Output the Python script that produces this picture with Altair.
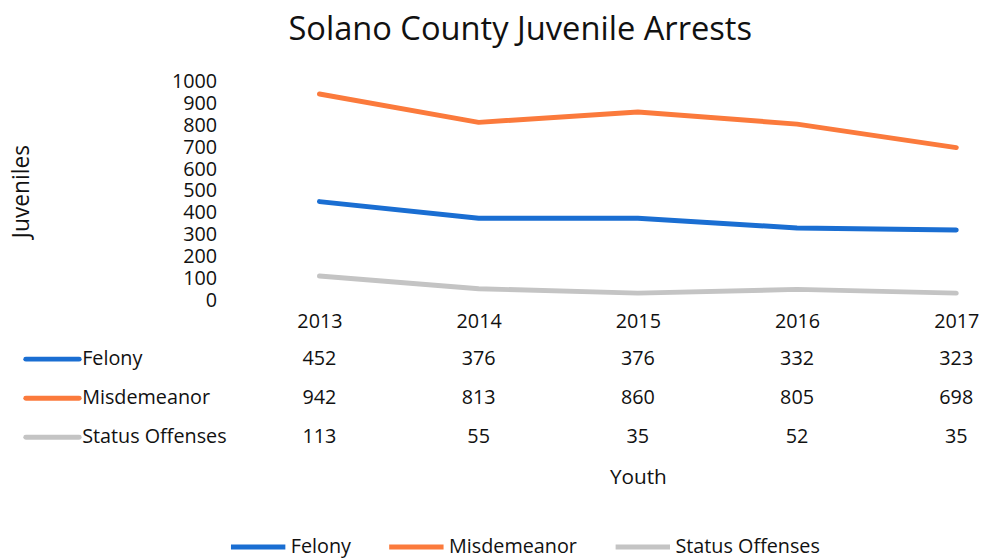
import altair as alt
import pandas as pd

years = ["2013", "2014", "2015", "2016", "2017"]
series = ["Felony", "Misdemeanor", "Status Offenses"]
felony = [452, 376, 376, 332, 323]
misdemeanor = [942, 813, 860, 805, 698]
status = [113, 55, 35, 52, 35]
colors = ["#1a6ed2", "#fb7a3c", "#c4c4c4"]

rows = []
for name, vals in zip(series, [felony, misdemeanor, status]):
    for y, v in zip(years, vals):
        rows.append({"year": y, "series": name, "value": v})
df = pd.DataFrame(rows)
df_names = pd.DataFrame({"series": series})

FONT = "Open Sans"
W, H = 644, 222

xenc = alt.X("year:O", scale=alt.Scale(type="point", padding=0, domain=years),
             axis=alt.Axis(title="Youth", labelAngle=0, labelFontSize=20, labelPadding=11,
                           domain=False, ticks=False, grid=False, labelColor="#111",
                           titleFontSize=21, titleFontWeight="normal", titleColor="#111",
                           titleY=179, titleBaseline="middle"))

color = alt.Color("series:N", scale=alt.Scale(domain=series, range=colors),
                  legend=alt.Legend(title=None, orient="none", direction="horizontal",
                                    legendX=-92, legendY=441, symbolType="stroke",
                                    symbolSize=3025, symbolStrokeWidth=5, labelFontSize=20,
                                    labelColor="#111", labelOffset=3, columnPadding=28,
                                    labelFont=FONT))

lines = alt.Chart(df).mark_line(strokeWidth=5, strokeJoin="round", strokeCap="round").encode(
    x=xenc,
    y=alt.Y("value:Q", scale=alt.Scale(domain=[0, 1000], nice=False),
            axis=alt.Axis(title="Juveniles", values=list(range(0, 1001, 100)), format="d",
                          labelFontSize=20, labelPadding=104, domain=False, ticks=False,
                          grid=False, labelColor="#111", titleFontSize=23,
                          titleFontWeight="normal", titleColor="#111", titleX=-301,
                          titleY=111, titleBaseline="middle", titleAngle=-90)),
    color=color,
)

tscale = alt.Scale(type="point", domain=series, range=[281, 360], padding=0)

table = alt.Chart(df).mark_text(fontSize=20, font=FONT, color="#111", baseline="middle").encode(
    x=alt.X("year:O", scale=alt.Scale(type="point", padding=0, domain=years)),
    y=alt.Y("series:N", scale=tscale, axis=None),
    text="value:Q",
)

row_labels = alt.Chart(df_names).mark_text(fontSize=20, font=FONT, color="#111",
                                           align="left", baseline="middle").encode(
    x=alt.value(-240),
    y=alt.Y("series:N", scale=tscale, axis=None),
    text="series:N",
)

swatches = alt.Chart(df_names).mark_rule(strokeWidth=5, strokeCap="round").encode(
    x=alt.value(-297),
    x2=alt.value(-243),
    y=alt.Y("series:N", scale=tscale, axis=None),
    color=alt.Color("series:N", scale=alt.Scale(domain=series, range=colors), legend=None),
)

chart = alt.layer(lines, table, row_labels, swatches).resolve_scale(
    y="independent"
).properties(
    width=W, height=H,
    padding={"left": 3, "top": 3, "right": 0, "bottom": 0},
    title=alt.Title("Solano County Juvenile Arrests", fontSize=33, font=FONT,
                    fontWeight="normal", color="#111", anchor="middle", dx=-119, offset=25),
).configure(font=FONT).configure_view(stroke=None)

chart.save("out.html", embed_options={"renderer": "svg", "actions": False})
